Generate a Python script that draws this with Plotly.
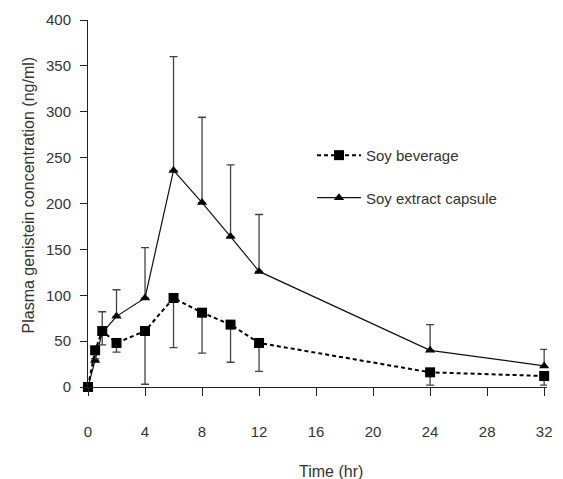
import plotly.graph_objects as go

time_hr = [0, 0.5, 1, 2, 4, 6, 8, 10, 12, 24, 32]
beverage = [0, 40, 61, 48, 61, 97, 81, 68, 48, 16, 12]
beverage_err_minus = [0, 9, 15, 10, 58, 54, 44, 41, 31, 14, 10]
capsule = [0, 29, 59, 77, 97, 236, 201, 164, 126, 40, 23]
capsule_err_plus = [0, 2, 23, 29, 55, 124, 93, 78, 62, 28, 18]
zeros = [0] * len(time_hr)

x_ticks = [0, 4, 8, 12, 16, 20, 24, 28, 32]
y_ticks = [0, 50, 100, 150, 200, 250, 300, 350, 400]

FONT = "Liberation Sans, Arial, Helvetica, sans-serif"
TXT = "#333333"

fig = go.Figure()

fig.add_trace(go.Scatter(
    x=time_hr, y=capsule, name="Soy extract capsule",
    mode="lines+markers", legendgroup="c", legendrank=2,
    line=dict(color="#111111", width=1.2),
    marker=dict(symbol="triangle-up", size=9, color="#000000"),
    error_y=dict(type="data", symmetric=False, array=capsule_err_plus,
                 arrayminus=zeros, color="#444444", thickness=1.3, width=4),
    cliponaxis=False,
))

fig.add_trace(go.Scatter(
    x=time_hr, y=beverage, name="Soy beverage",
    mode="lines+markers", legendgroup="b", legendrank=1,
    line=dict(color="#000000", width=2, dash="4px,3px"),
    marker=dict(symbol="square", size=10, color="#000000"),
    error_y=dict(type="data", symmetric=False, array=zeros,
                 arrayminus=beverage_err_minus, color="#444444", thickness=1.3, width=4),
    cliponaxis=False,
))

fig.update_layout(
    width=563, height=479,
    margin=dict(l=88, r=16, t=20, b=92),
    paper_bgcolor="white", plot_bgcolor="white",
    font=dict(family=FONT, size=15, color=TXT),
    showlegend=True,
    legend=dict(x=0.488, y=0.676, xanchor="left", yanchor="top",
                bgcolor="rgba(0,0,0,0)", itemwidth=44, tracegroupgap=20,
                font=dict(family=FONT, size=15, color=TXT)),
    xaxis=dict(range=[0, 32.2], tickvals=x_ticks, ticktext=[str(v) for v in x_ticks],
               showgrid=False, zeroline=False, showline=True, linecolor="#222222",
               linewidth=1, ticks="outside", ticklen=8, tickcolor="#222222",
               ticklabelstandoff=23, tickfont=dict(size=15, color=TXT)),
    yaxis=dict(range=[0, 400], tickvals=y_ticks, ticktext=[str(v) for v in y_ticks],
               showgrid=False, zeroline=False, showline=True, linecolor="#222222",
               linewidth=1, ticks="outside", ticklen=7, tickcolor="#222222",
               ticklabelstandoff=6, tickfont=dict(size=15, color=TXT)),
    annotations=[
        dict(text="Plasma genistein concentration (ng/ml)", xref="paper", yref="paper",
             x=-0.1307, y=0.522, textangle=-90, showarrow=False,
             xanchor="center", yanchor="middle", font=dict(size=16, color=TXT)),
        dict(text="Time (hr)", xref="paper", yref="paper",
             x=0.529, y=-0.229, showarrow=False,
             xanchor="center", yanchor="middle", font=dict(size=16, color=TXT)),
    ],
)

fig.write_html("out.html", config={"displayModeBar": False},
               post_script="document.body.style.margin='0px';")
